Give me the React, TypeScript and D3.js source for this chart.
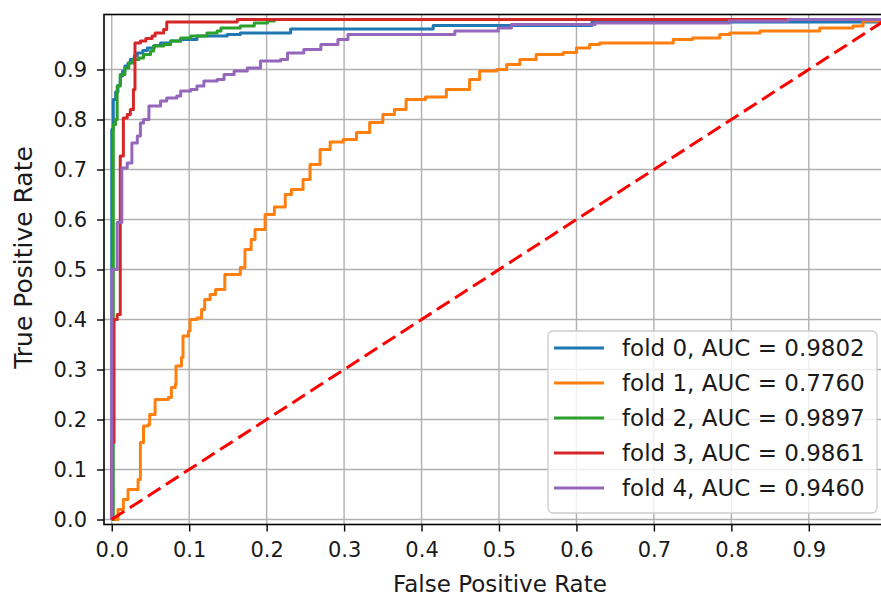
import React from 'react';
import * as d3 from 'd3';

const foldLabels = [
  'fold 0, AUC = 0.9802',
  'fold 1, AUC = 0.7760',
  'fold 2, AUC = 0.9897',
  'fold 3, AUC = 0.9861',
  'fold 4, AUC = 0.9460',
];
const foldColors = ['#1f77b4', '#ff7f0e', '#2ca02c', '#d62728', '#9467bd'];

// corner points of each ROC curve (fpr, tpr)
const fold0Fpr = [0, 0, 0.002, 0.005, 0.008, 0.011, 0.014, 0.017, 0.021, 0.024, 0.029, 0.033, 0.04, 0.046, 0.055, 0.063, 0.076, 0.089, 0.11, 0.149, 0.166, 0.231, 0.415, 0.62, 1.0];
const fold0Tpr = [0, 0.78, 0.84, 0.855, 0.868, 0.887, 0.897, 0.907, 0.913, 0.92, 0.927, 0.933, 0.938, 0.943, 0.948, 0.953, 0.957, 0.96, 0.967, 0.97, 0.973, 0.981, 0.988, 0.995, 1.0];

const fold1Fpr = [0, 0.008, 0.015, 0.021, 0.03, 0.034, 0.037, 0.041, 0.047, 0.049, 0.056, 0.073, 0.077, 0.082, 0.083, 0.09, 0.092, 0.099, 0.101, 0.11, 0.116, 0.12, 0.127, 0.134, 0.146, 0.166, 0.172, 0.18, 0.185, 0.198, 0.21, 0.224, 0.232, 0.247, 0.256, 0.269, 0.282, 0.299, 0.316, 0.333, 0.35, 0.365, 0.38, 0.405, 0.432, 0.462, 0.475, 0.497, 0.51, 0.527, 0.548, 0.583, 0.6, 0.617, 0.63, 0.712, 0.725, 0.75, 0.785, 0.798, 0.837, 0.905, 0.914, 0.957, 0.97, 1.0];
const fold1Tpr = [0, 0.02, 0.04, 0.06, 0.06, 0.08, 0.154, 0.187, 0.19, 0.21, 0.24, 0.244, 0.264, 0.27, 0.307, 0.324, 0.367, 0.377, 0.4, 0.403, 0.42, 0.44, 0.45, 0.46, 0.49, 0.504, 0.54, 0.56, 0.58, 0.61, 0.625, 0.65, 0.66, 0.68, 0.71, 0.74, 0.755, 0.76, 0.774, 0.794, 0.81, 0.82, 0.84, 0.845, 0.86, 0.88, 0.897, 0.9, 0.91, 0.92, 0.93, 0.934, 0.943, 0.95, 0.953, 0.953, 0.96, 0.963, 0.97, 0.973, 0.977, 0.977, 0.983, 0.987, 0.997, 1.0];

const fold2Fpr = [0, 0.002, 0.005, 0.007, 0.011, 0.017, 0.022, 0.028, 0.035, 0.041, 0.05, 0.054, 0.067, 0.076, 0.089, 0.102, 0.123, 0.136, 0.141, 0.166, 0.184, 0.201, 0.21, 1.0];
const fold2Tpr = [0, 0.79, 0.8, 0.867, 0.89, 0.903, 0.913, 0.92, 0.923, 0.93, 0.937, 0.947, 0.95, 0.957, 0.963, 0.967, 0.973, 0.977, 0.983, 0.987, 0.993, 0.997, 1.0, 1.0];

const fold3Fpr = [0, 0, 0.003, 0.007, 0.011, 0.015, 0.02, 0.024, 0.028, 0.03, 0.037, 0.044, 0.052, 0.056, 0.067, 0.071, 0.162, 1.0];
const fold3Tpr = [0, 0.154, 0.4, 0.41, 0.727, 0.803, 0.81, 0.82, 0.86, 0.953, 0.957, 0.962, 0.967, 0.973, 0.98, 0.995, 1.0, 1.0];

const fold4Fpr = [0, 0, 0.007, 0.013, 0.02, 0.026, 0.033, 0.037, 0.041, 0.048, 0.063, 0.071, 0.084, 0.089, 0.102, 0.11, 0.119, 0.136, 0.145, 0.158, 0.175, 0.192, 0.218, 0.227, 0.248, 0.27, 0.292, 0.305, 0.443, 0.499, 0.516, 0.624, 0.797, 0.873, 1.0];
const fold4Tpr = [0, 0.5, 0.594, 0.703, 0.713, 0.753, 0.767, 0.793, 0.8, 0.827, 0.837, 0.843, 0.847, 0.857, 0.86, 0.867, 0.877, 0.88, 0.89, 0.897, 0.903, 0.917, 0.92, 0.933, 0.94, 0.95, 0.96, 0.97, 0.977, 0.983, 0.99, 0.993, 0.997, 1.0, 1.0];

const foldFpr = [fold0Fpr, fold1Fpr, fold2Fpr, fold3Fpr, fold4Fpr];
const foldTpr = [fold0Tpr, fold1Tpr, fold2Tpr, fold3Tpr, fold4Tpr];

const tickValues = [0, 0.1, 0.2, 0.3, 0.4, 0.5, 0.6, 0.7, 0.8, 0.9];
const chanceFpr = [0, 1];
const chanceTpr = [0, 1];

const W = 881;
const H = 596;
const FONT = 'DejaVu Sans';

export default function App() {
  const ref = React.useRef<SVGSVGElement>(null);

  React.useEffect(() => {
    if (!ref.current) return;
    const svg = d3.select(ref.current);
    svg.selectAll('*').remove();

    const left = 104, right = 894, top = 14.5, bottom = 524.5;
    const x = d3.scaleLinear().domain([-0.01, 1.01]).range([left, right]);
    const y = d3.scaleLinear().domain([-0.01, 1.01]).range([bottom, top]);

    svg.append('rect').attr('width', W).attr('height', H).attr('fill', '#fff');

    svg.append('defs').append('clipPath').attr('id', 'plot-clip')
      .append('rect').attr('x', left).attr('y', top)
      .attr('width', right - left).attr('height', bottom - top);

    // grid
    const grid = svg.append('g');
    tickValues.forEach(t => {
      grid.append('line')
        .attr('x1', x(t)).attr('x2', x(t)).attr('y1', top).attr('y2', bottom)
        .attr('stroke', '#b0b0b0').attr('stroke-width', 1.4);
      grid.append('line')
        .attr('x1', left).attr('x2', right).attr('y1', y(t)).attr('y2', y(t))
        .attr('stroke', '#b0b0b0').attr('stroke-width', 1.4);
    });

    // curves
    const line = d3.line<[number, number]>()
      .x(d => x(d[0]))
      .y(d => y(d[1]))
      .curve(d3.curveStepAfter);

    const curves = svg.append('g').attr('clip-path', 'url(#plot-clip)');
    foldFpr.forEach((fpr, i) => {
      const pts = fpr.map((f, j) => [f, foldTpr[i][j]] as [number, number]);
      curves.append('path')
        .attr('d', line(pts))
        .attr('fill', 'none')
        .attr('stroke', foldColors[i])
        .attr('stroke-width', 3)
        .attr('stroke-linejoin', 'round');
    });

    const diag = d3.line<[number, number]>().x(d => x(d[0])).y(d => y(d[1]));
    curves.append('path')
      .attr('d', diag(chanceFpr.map((f, j) => [f, chanceTpr[j]] as [number, number])))
      .attr('fill', 'none')
      .attr('stroke', '#ff0000')
      .attr('stroke-width', 3)
      .attr('stroke-dasharray', '15 6.5');

    // axes
    const axisY = d3.axisLeft(y).tickValues(tickValues).tickSize(7).tickPadding(10)
      .tickFormat(d3.format('.1f'));
    const axisX = d3.axisBottom(x).tickValues(tickValues).tickSize(7).tickPadding(11)
      .tickFormat(d3.format('.1f'));

    const gy = svg.append('g').attr('transform', `translate(${left},0)`).call(axisY);
    const gx = svg.append('g').attr('transform', `translate(0,${bottom})`).call(axisX);
    [gx, gy].forEach(g => {
      g.select('.domain').remove();
      g.selectAll('.tick line').attr('stroke', '#000').attr('stroke-width', 1.4);
      g.selectAll('.tick text')
        .attr('fill', '#1a1a1a')
        .style('font-family', FONT)
        .style('font-size', '21px');
    });

    // spines
    svg.append('rect')
      .attr('x', left).attr('y', top)
      .attr('width', right - left).attr('height', bottom - top)
      .attr('fill', 'none').attr('stroke', '#000').attr('stroke-width', 1.6);

    // axis labels
    svg.append('text')
      .attr('x', 500).attr('y', 592)
      .attr('text-anchor', 'middle')
      .attr('fill', '#1a1a1a')
      .style('font-family', FONT).style('font-size', '23px')
      .text('False Positive Rate');

    svg.append('text')
      .attr('transform', 'translate(32,257.5) rotate(-90)')
      .attr('text-anchor', 'middle')
      .attr('fill', '#1a1a1a')
      .style('font-family', FONT).style('font-size', '25px')
      .text('True Positive Rate');

    // legend
    const lg = svg.append('g');
    lg.append('rect')
      .attr('x', 548).attr('y', 331).attr('width', 329).attr('height', 182)
      .attr('rx', 5)
      .attr('fill', '#fff').attr('fill-opacity', 0.8)
      .attr('stroke', '#cccccc').attr('stroke-width', 1.3);
    foldLabels.forEach((label, i) => {
      const cy = 348 + i * 35;
      lg.append('line')
        .attr('x1', 554).attr('x2', 604).attr('y1', cy).attr('y2', cy)
        .attr('stroke', foldColors[i]).attr('stroke-width', 3);
      lg.append('text')
        .attr('x', 622).attr('y', cy + 8)
        .attr('fill', '#1a1a1a')
        .style('font-family', FONT).style('font-size', '23px')
        .text(label);
    });
  }, []);

  return (
    <div style={{ position: 'absolute', left: 0, top: 0, width: W, height: H, overflow: 'hidden', background: '#fff' }}>
      <svg ref={ref} width={W} height={H} style={{ display: 'block' }} />
    </div>
  );
}
